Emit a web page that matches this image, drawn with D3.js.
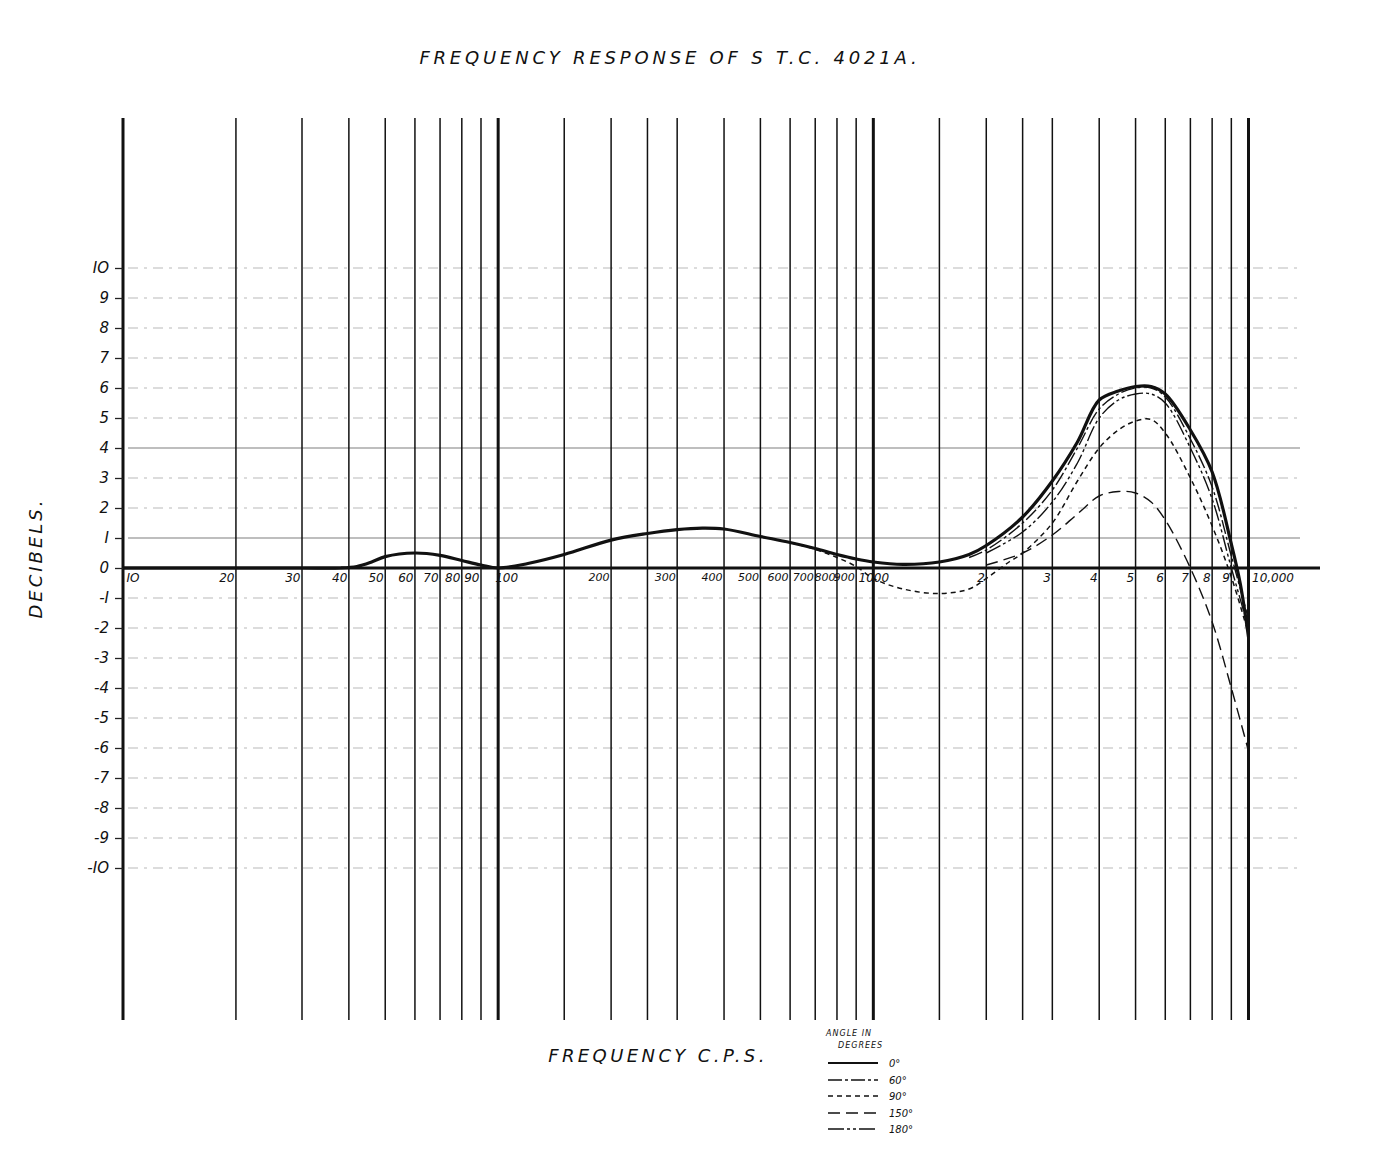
<!DOCTYPE html>
<html>
<head>
<meta charset="utf-8">
<script src="https://cdn.jsdelivr.net/npm/d3@7/dist/d3.min.js"></script>
<style>
  html, body { margin: 0; padding: 0; background: #fff; }
  svg { display: block; }
  text { font-family: "DejaVu Sans", sans-serif; font-style: italic; fill: #111; }
</style>
</head>
<body>
<svg id="chart" width="1376" height="1154"></svg>
<script>
// ---------- DATA ----------
const titleText = "FREQUENCY  RESPONSE  OF  S T.C.  4021A.";
const yTitle = "DECIBELS.";
const xTitle = "FREQUENCY   C.P.S.";

const gridFreqs = [10,20,30,40,50,60,70,80,90,100,150,200,250,300,400,500,600,700,800,900,1000,
                   1500,2000,2500,3000,4000,5000,6000,7000,8000,9000,10000];
const majorFreqs = [10,100,1000,10000];
const xTickFreqs = [10,20,30,40,50,60,70,80,90,100,200,300,400,500,600,700,800,900,1000,
                    2000,3000,4000,5000,6000,7000,8000,9000,10000];
const xTickLabels = ["IO","20","30","40","50","60","70","80","90","100","200","300","400","500",
                     "600","700","800","900","1000","2","3","4","5","6","7","8","9","10,000"];
const yTicks = [10,9,8,7,6,5,4,3,2,1,0,-1,-2,-3,-4,-5,-6,-7,-8,-9,-10];

// 0 degrees (thick solid)
const freq0 = [10,20,30,38,42,46,50,60,70,80,90,100,120,150,200,250,300,350,400,500,600,700,800,900,1000,
               1200,1500,1800,2000,2500,3000,3500,4000,4500,5000,5500,6000,7000,8000,9000,9500,10000];
const db0   = [0,0,0,0,0.05,0.2,0.38,0.5,0.42,0.25,0.1,0,0.15,0.45,0.93,1.15,1.28,1.33,1.3,1.05,0.85,0.65,0.45,0.3,0.2,
               0.12,0.2,0.45,0.75,1.7,2.9,4.2,5.6,5.9,6.05,6.05,5.8,4.6,3.2,0.8,-0.5,-2.3];
// 60 degrees
const freq60 = [1800,2000,2500,3000,3500,4000,4500,5000,5500,6000,7000,8000,9000,10000];
const db60   = [0.35,0.6,1.5,2.6,4.0,5.3,5.8,6.0,6.0,5.7,4.3,2.7,0.4,-1.7];
// 90 degrees (dips below zero)
const freq90 = [600,700,800,900,1000,1200,1500,1800,2000,2300,2500,3000,3500,4000,4500,5000,5500,6000,7000,8000,9000,10000];
const db90   = [0.85,0.62,0.35,0.05,-0.35,-0.7,-0.85,-0.7,-0.35,0.2,0.5,1.5,2.9,4.0,4.6,4.9,4.95,4.5,3.0,1.4,-0.3,-2.2];
// 150 degrees
const freq150 = [2000,2500,3000,3500,4000,4500,5000,5500,6000,7000,8000,9000,10000];
const db150   = [0.1,0.5,1.1,1.8,2.4,2.55,2.5,2.2,1.6,0,-1.8,-4.0,-6.1];
// 180 degrees
const freq180 = [2000,2500,3000,3500,4000,4500,5000,5500,6000,7000,8000,9000,10000];
const db180   = [0.5,1.2,2.2,3.5,5.0,5.6,5.8,5.8,5.5,4.0,2.3,0.0,-2.0];

const seriesNames = ["0°","60°","90°","150°","180°"];
const seriesFreqs = [freq0,freq60,freq90,freq150,freq180];
const seriesDb = [db0,db60,db90,db150,db180];

// ---------- STYLE ----------
const styles = [
  {w:3.2, dash:null},
  {w:1.4, dash:"14,3,3,3"},
  {w:1.5, dash:"5,4"},
  {w:1.4, dash:"12,6"},
  {w:1.4, dash:"16,3,3,3,3,3"}
];

const svg = d3.select("#chart");
const x = d3.scaleLog().domain([10,10000]).range([123,1248.5]);
const y = d3.scaleLinear().domain([-10,10]).range([868,268]);
const gridTop = 118, gridBottom = 1020, zeroRight = 1320;

// horizontal grid lines
svg.append("g").selectAll("line").data(yTicks.filter(d=>d!==0)).join("line")
  .attr("x1",128).attr("x2",1300)
  .attr("y1",d=>y(d)).attr("y2",d=>y(d))
  .attr("stroke", d => (d===1||d===4) ? "#555" : "#999")
  .attr("stroke-width", d => (d===1||d===4) ? 1.1 : 0.9)
  .attr("stroke-dasharray", d => (d===1||d===4) ? null : "10,6,3,6")
  .attr("opacity", 0.75);

// vertical grid lines
svg.append("g").selectAll("line").data(gridFreqs).join("line")
  .attr("x1",d=>x(d)).attr("x2",d=>x(d))
  .attr("y1",gridTop).attr("y2",gridBottom)
  .attr("stroke","#111")
  .attr("stroke-width", d => majorFreqs.includes(d) ? 3 : 1.5);

// zero line
svg.append("line").attr("x1",x(10)).attr("x2",zeroRight)
  .attr("y1",y(0)).attr("y2",y(0)).attr("stroke","#111").attr("stroke-width",3.2);

// y-axis ticks and labels
const yAxis = d3.axisLeft(y).tickValues(yTicks).tickSize(8).tickFormat(d=>String(d));
const gy = svg.append("g").attr("transform",`translate(${x(10)},0)`).call(yAxis);
gy.select(".domain").remove();
gy.selectAll(".tick line").attr("stroke","#222").attr("stroke-width",1.3);
gy.selectAll(".tick text").attr("x",-14).attr("font-size",15).attr("fill","#111")
  .attr("font-family","DejaVu Sans, sans-serif").attr("font-style","italic")
  .text(d => d===10 ? "IO" : (d===-10 ? "-IO" : (d===1 ? "I" : (d===-1 ? "-I" : String(d)))));

// x tick labels
const xAxis = d3.axisBottom(x).tickValues(xTickFreqs).tickSize(0)
  .tickFormat((d,i)=>xTickLabels[i]);
const gx = svg.append("g").attr("transform",`translate(0,${y(0)})`).call(xAxis);
gx.select(".domain").remove();
gx.selectAll(".tick text")
  .attr("font-size",d => (d>100 && d<1000) ? 11 : 12)
  .attr("font-family","DejaVu Sans, sans-serif").attr("font-style","italic").attr("fill","#111")
  .attr("y",5)
  .attr("text-anchor", d => (d===10 || d===10000) ? "start" : (d===100||d===1000 ? "middle" : "end"))
  .attr("dx", d => (d===10 || d===10000) ? 3 : (d===100 ? 8 : (d===1000 ? 0 : -2)));

// curves
const line = d3.line().x(d=>x(d[0])).y(d=>y(d[1])).curve(d3.curveCatmullRom.alpha(0.5));
seriesFreqs.forEach((fs,i)=>{
  const pts = fs.map((f,j)=>[f, seriesDb[i][j]]);
  svg.append("path").datum(pts).attr("d",line)
    .attr("fill","none").attr("stroke","#111")
    .attr("stroke-width",styles[i].w)
    .attr("stroke-dasharray",styles[i].dash)
    .attr("stroke-linejoin","round");
});

// titles
svg.append("text").attr("x",670).attr("y",64).attr("text-anchor","middle")
  .attr("font-size",18).attr("letter-spacing",3.8).text(titleText);
svg.append("text").attr("transform","translate(42,558) rotate(-90)").attr("text-anchor","middle")
  .attr("font-size",18).attr("letter-spacing",3).text(yTitle);
svg.append("text").attr("x",658).attr("y",1062).attr("text-anchor","middle")
  .attr("font-size",18).attr("letter-spacing",3.4).text(xTitle);

// legend
const lg = svg.append("g");
lg.append("text").attr("x",826).attr("y",1036).attr("font-size",8).attr("font-style","normal").attr("letter-spacing",1).text("ANGLE   IN");
lg.append("text").attr("x",838).attr("y",1048).attr("font-size",8).attr("font-style","normal").attr("letter-spacing",1).text("DEGREES");
const legendY = [1063,1080,1096,1113,1129];
seriesNames.forEach((n,i)=>{
  lg.append("line").attr("x1",828).attr("x2",878).attr("y1",legendY[i]).attr("y2",legendY[i])
    .attr("stroke","#111").attr("stroke-width", i===0 ? 2.2 : 1.3)
    .attr("stroke-dasharray", styles[i].dash);
  lg.append("text").attr("x",889).attr("y",legendY[i]+4).attr("font-size",10)
    .attr("font-style","normal").text(n);
});
</script>
</body>
</html>
